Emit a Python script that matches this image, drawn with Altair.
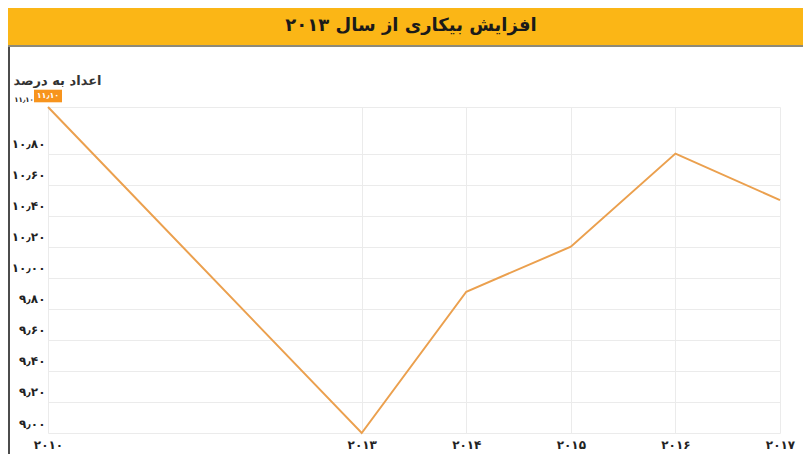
import altair as alt
import pandas as pd

# ---- data ----
years = [2010, 2013, 2014, 2015, 2016, 2017]
rates = [11.10, 9.00, 9.91, 10.20, 10.80, 10.50]

x_ticks = [2010, 2013, 2014, 2015, 2016, 2017]
x_tick_labels = ["۲۰۱۰", "۲۰۱۳", "۲۰۱۴", "۲۰۱۵", "۲۰۱۶", "۲۰۱۷"]

y_ticks = [9.0, 9.2, 9.4, 9.6, 9.8, 10.0, 10.2, 10.4, 10.6, 10.8, 11.1]
y_tick_labels = ["۹٫۰۰", "۹٫۲۰", "۹٫۴۰", "۹٫۶۰", "۹٫۸۰", "۱۰٫۰۰",
                 "۱۰٫۲۰", "۱۰٫۴۰", "۱۰٫۶۰", "۱۰٫۸۰", ""]

title_text = "افزایش بیکاری از سال ۲۰۱۳"
y_title = "اعداد به درصد"
callout_year = [2010]
callout_value = [11.10]
callout_label = ["۱۱٫۱۰"]

FONT = "DejaVu Sans"

df = pd.DataFrame({"year": years, "rate": rates})
call_df = pd.DataFrame({"year": callout_year, "rate": callout_value, "label": callout_label})
one = pd.DataFrame({"k": [0]})


def label_expr(vals, labs):
    parts = [f"abs(datum.value - {v}) < 0.001 ? '{l}'" for v, l in zip(vals, labs)]
    return " : ".join(parts) + " : datum.label"


x_enc = alt.X(
    "year:Q",
    scale=alt.Scale(domain=[2010, 2017], nice=False, zero=False),
    axis=alt.Axis(
        values=x_ticks,
        labelExpr=label_expr(x_ticks, x_tick_labels),
        title=None,
        labelPadding=6,
    ),
)
y_enc = alt.Y(
    "rate:Q",
    scale=alt.Scale(domain=[9.0, 11.1], nice=False, zero=False),
    axis=alt.Axis(
        values=y_ticks,
        labelExpr=label_expr(y_ticks, y_tick_labels),
        title=y_title,
        titleAngle=0,
        titleAlign="center",
        titleBaseline="middle",
        titleX=9,
        titleY=-27,
        labelBaseline="bottom",
        labelOffset=-3,
        labelPadding=3,
    ),
)

line = alt.Chart(df).mark_line(color="#EBA04E", strokeWidth=2).encode(x=x_enc, y=y_enc)

callout_box = alt.Chart(call_df).mark_point(
    shape="M-1,-0.45L1,-0.45L1,0.45L-1,0.45Z",
    filled=True,
    color="#F7941D",
    opacity=1,
    size=784,
    yOffset=-11,
).encode(x=x_enc, y=y_enc)

callout_text = alt.Chart(call_df).mark_text(
    font=FONT, fontSize=8, fontWeight="bold", color="white", dy=-11
).encode(x=x_enc, y=y_enc, text="label:N")

axis_top_label = alt.Chart(call_df).mark_text(
    font=FONT, fontSize=7, fontWeight="bold", color="#222222", dx=-24, dy=-7,
    align="center"
).encode(x=x_enc, y=y_enc, text="label:N")

bar = alt.Chart(one).mark_rect(color="#FBB616").encode(
    x=alt.value(-40), x2=alt.value(755), y=alt.value(-101), y2=alt.value(-62)
)
bar_line = alt.Chart(one).mark_rect(color="#8E8A78").encode(
    x=alt.value(-40), x2=alt.value(755), y=alt.value(-62), y2=alt.value(-60)
)
left_border = alt.Chart(one).mark_rule(color="#111111", strokeWidth=1.5).encode(
    x=alt.value(-39), y=alt.value(-60), y2=alt.value(350)
)
title = alt.Chart(one).mark_text(
    text=title_text, font=FONT, fontSize=18, fontWeight="bold", color="#1a1a1a",
    align="center", baseline="middle"
).encode(x=alt.value(363), y=alt.value(-81))

chart = alt.layer(
    line, bar, bar_line, left_border, title, callout_box, callout_text, axis_top_label
).properties(
    width=732,
    height=326,
    autosize=alt.AutoSizeParams(type="none"),
    padding={"left": 40, "top": 99, "right": 23, "bottom": 24},
).configure_view(
    stroke=None
).configure_axis(
    domain=False,
    ticks=False,
    grid=True,
    gridColor="#ebebeb",
    labelFont=FONT,
    labelFontWeight="bold",
    labelFontSize=12,
    labelColor="#222222",
    labelFlush=False,
    labelOverlap=False,
    titleFont=FONT,
    titleFontWeight="bold",
    titleFontSize=13,
    titleColor="#333333",
)

chart.save("out.html", embed_options={"renderer": "svg", "actions": False})
